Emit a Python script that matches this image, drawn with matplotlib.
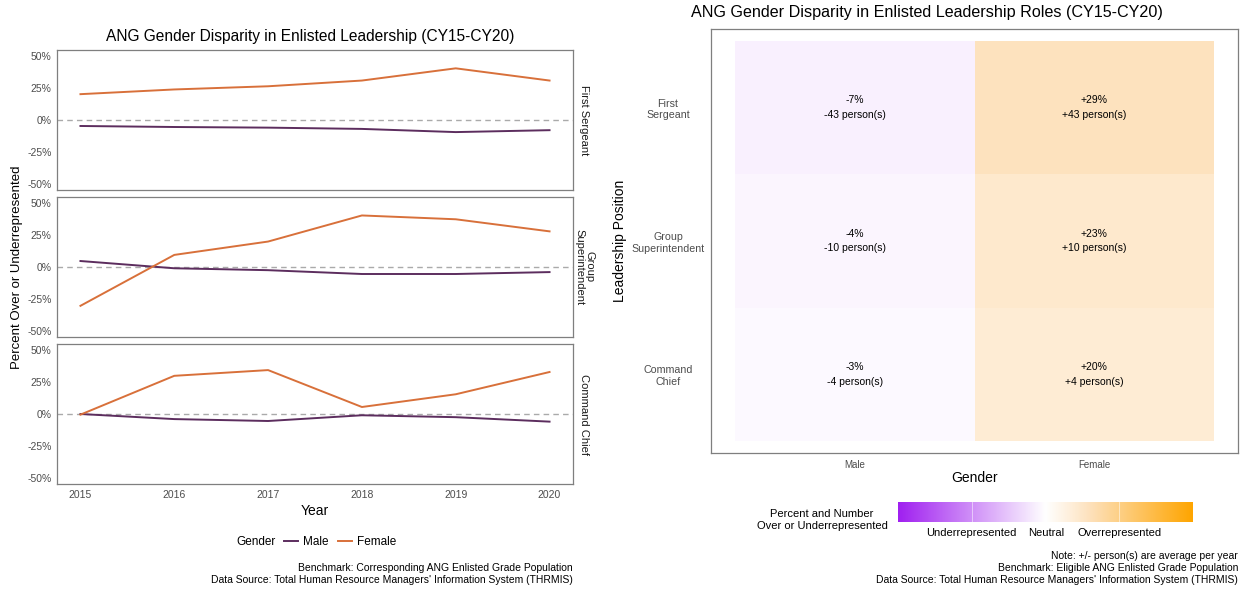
import numpy as np
import matplotlib
matplotlib.use("Agg")
import matplotlib.pyplot as plt
from matplotlib.colors import LinearSegmentedColormap, Normalize

plt.rcParams['font.family'] = ['Liberation Sans', 'DejaVu Sans']

# data
years = [2015, 2016, 2017, 2018, 2019, 2020]

male_fs = [-4.7, -5.5, -6, -7, -9.5, -8]
female_fs = [20.3, 24, 26.5, 31, 40.6, 31]
male_gs = [4.7, -1, -2.5, -5.5, -5.5, -4]
female_gs = [-30.5, 9.5, 20, 40.5, 37.5, 28]
male_cc = [0, -4, -5.5, -1, -2.5, -6]
female_cc = [-0.5, 30, 34.5, 5.5, 15.5, 33]

heat_rows = ["First\nSergeant", "Group\nSuperintendent", "Command\nChief"]
heat_cols = ["Male", "Female"]
heat_pct = [[-7, 29], [-4, 23], [-3, 20]]
heat_persons = [[-43, 43], [-10, 10], [-4, 4]]

W, H = 1243, 592
fig = plt.figure(figsize=(W / 100, H / 100), dpi=100)


def rect(x0, y0, x1, y1):
    return [x0 / W, 1 - y1 / H, (x1 - x0) / W, (y1 - y0) / H]


male_col = '#5c2d5e'
female_col = '#d8703a'
grey = '#4d4d4d'

# left: faceted lines
panels = [(50, 190, male_fs, female_fs, "First Sergeant"),
          (197, 337, male_gs, female_gs, "Group\nSuperintendent"),
          (344, 484, male_cc, female_cc, "Command Chief")]
for i, (y0, y1, m, f, lab) in enumerate(panels):
    ax = fig.add_axes(rect(57, y0, 573, y1))
    ax.axhline(0, color='#aaaaaa', ls=(0, (4, 3)), lw=1)
    ax.plot(years, m, color=male_col, lw=1.4, label='Male')
    ax.plot(years, f, color=female_col, lw=1.4, label='Female')
    ax.set_xlim(2014.75, 2020.25)
    ax.set_ylim(-55, 55)
    ax.set_yticks([-50, -25, 0, 25, 50])
    ax.set_yticklabels(['-50%', '-25%', '0%', '25%', '50%'], color=grey, fontsize=7.5)
    ax.tick_params(length=0, pad=4)
    for s in ax.spines.values():
        s.set_color('#7f7f7f')
        s.set_linewidth(0.9)
    ax.text(1.022, 0.5, lab, transform=ax.transAxes, rotation=270,
            ha='center', va='center', fontsize=8, color='#1a1a1a', linespacing=1.0)
    if i < 2:
        ax.set_xticks([])
    else:
        ax.set_xticks(years)
        ax.set_xticklabels([str(y) for y in years], color=grey, fontsize=7.5)
        ax.set_xlabel('Year', fontsize=10, labelpad=3)
    if i == 0:
        handles, labels = ax.get_legend_handles_labels()

fig.text(310 / W, 1 - 37 / H, 'ANG Gender Disparity in Enlisted Leadership (CY15-CY20)',
         ha='center', va='center', fontsize=11.2)
fig.text(17 / W, 1 - 267 / H, 'Percent Over or Underrepresented', rotation=90,
         ha='center', va='center', fontsize=9.5)
fig.text(256 / W, 1 - 542 / H, 'Gender', ha='center', va='center', fontsize=8.5)
fig.legend(handles, labels, loc='center', bbox_to_anchor=(340 / W, 1 - 542 / H),
           ncol=2, frameon=False, fontsize=8.5, handlelength=1.2, handletextpad=0.4,
           columnspacing=0.8)
fig.text(573 / W, 1 - 568 / H, 'Benchmark: Corresponding ANG Enlisted Grade Population',
         ha='right', va='center', fontsize=7.5)
fig.text(573 / W, 1 - 580 / H, "Data Source: Total Human Resource Managers' Information System (THRMIS)",
         ha='right', va='center', fontsize=7.5)

# right: heatmap (purple - white - orange, blended a bit like ggplot's Lab scale)
cmap = LinearSegmentedColormap.from_list(
    'pw_o', [(0.0, '#a020f0'), (0.5, '#ffffff'), (0.6, '#feecd4'),
             (0.645, '#fde2bf'), (1.0, '#ffa500')])
norm = Normalize(-100, 100)
hx = fig.add_axes(rect(711, 29, 1238, 453))
vals = np.array(heat_pct, dtype=float)
hx.pcolormesh(np.arange(-0.5, 2, 1), np.arange(-0.5, 3, 1), vals, cmap=cmap, norm=norm)
for r in range(len(heat_rows)):
    for c in range(len(heat_cols)):
        p = heat_pct[r][c]
        n = heat_persons[r][c]
        txt = f"{p:+d}%\n{n:+d} person(s)"
        hx.text(c, r, txt, ha='center', va='center', fontsize=7.5, linespacing=1.6)
hx.set_xlim(-0.6, 1.6)
hx.set_ylim(2.59, -0.59)
hx.set_xticks([0, 1])
hx.set_xticklabels(heat_cols, color=grey, fontsize=7)
hx.set_yticks([0, 1, 2])
hx.set_yticklabels(heat_rows, color=grey, fontsize=7.7, ha='center')
hx.tick_params(axis='y', pad=31, length=0)
hx.tick_params(axis='x', length=0, pad=5)
for s in hx.spines.values():
    s.set_color('#7f7f7f')
    s.set_linewidth(0.9)
hx.set_xlabel('Gender', fontsize=10, labelpad=1)
hx.set_ylabel('Leadership Position', fontsize=10, labelpad=3)

fig.text(927 / W, 1 - 13 / H, 'ANG Gender Disparity in Enlisted Leadership Roles (CY15-CY20)',
         ha='center', va='center', fontsize=11.6)

# colour bar
cb = fig.add_axes(rect(898, 502, 1193, 522))
grad = np.linspace(-100, 100, 256).reshape(1, -1)
cb.imshow(grad, aspect='auto', cmap=cmap, norm=norm, extent=[-100, 100, 0, 1])
for v in [-50, 0, 50]:
    cb.axvline(v, color='white', lw=0.6, alpha=0.6)
cb.set_xticks([])
cb.set_yticks([])
for s in cb.spines.values():
    s.set_visible(False)
fig.text(822 / W, 1 - 520 / H, 'Percent and Number\nOver or Underrepresented',
         ha='center', va='center', fontsize=8, linespacing=1.2)
fig.text(971 / W, 1 - 533 / H, 'Underrepresented', ha='center', va='center', fontsize=8)
fig.text(1046 / W, 1 - 533 / H, 'Neutral', ha='center', va='center', fontsize=8)
fig.text(1120 / W, 1 - 533 / H, 'Overrepresented', ha='center', va='center', fontsize=8)

fig.text(1238 / W, 1 - 556 / H, 'Note: +/- person(s) are average per year',
         ha='right', va='center', fontsize=7.5)
fig.text(1238 / W, 1 - 568 / H, 'Benchmark: Eligible ANG Enlisted Grade Population',
         ha='right', va='center', fontsize=7.5)
fig.text(1238 / W, 1 - 580 / H, "Data Source: Total Human Resource Managers' Information System (THRMIS)",
         ha='right', va='center', fontsize=7.5)

fig.savefig('out.png', dpi=100)
